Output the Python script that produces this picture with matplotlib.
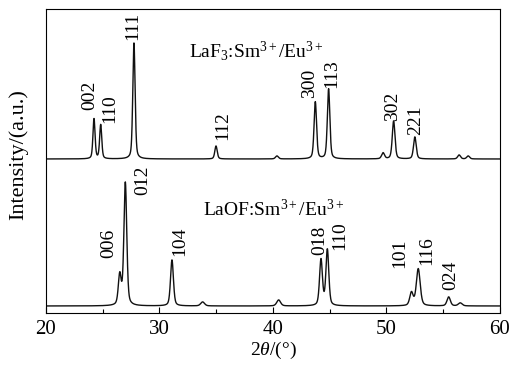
import numpy as np
import matplotlib
matplotlib.use("Agg")
import matplotlib.pyplot as plt

# Peak positions (2theta), heights (a.u.) and widths (FWHM, deg)
laf3_pos = [24.23, 24.82, 27.75, 34.98, 40.35, 43.73, 44.90, 49.70, 50.63, 52.50, 56.40, 57.20]
laf3_height = [40, 34, 116, 13, 3, 57, 70, 6, 38, 22, 4, 3]
laf3_fwhm = [0.22, 0.22, 0.24, 0.25, 0.3, 0.26, 0.26, 0.3, 0.28, 0.28, 0.3, 0.3]
laf3_hkl = ["002", "110", "111", "112", "300", "113", "302", "221"]
laf3_hkl_x = [23.88, 25.64, 27.67, 35.60, 43.26, 45.20, 50.57, 52.60]

laof_pos = [26.50, 26.99, 31.10, 33.80, 40.50, 44.23, 44.79, 52.20, 52.80, 55.48, 56.50]
laof_height = [30, 123, 46, 4, 6, 46, 56, 13, 37, 9, 3]
laof_fwhm = [0.3, 0.3, 0.3, 0.4, 0.4, 0.3, 0.3, 0.35, 0.4, 0.35, 0.4]
laof_hkl = ["006", "012", "104", "018", "110", "101", "116", "024"]
laof_hkl_x = [25.55, 28.55, 31.80, 44.14, 45.90, 51.19, 53.57, 55.68]

plt.rcParams["font.family"] = ["Liberation Serif", "DejaVu Serif"]
plt.rcParams["mathtext.fontset"] = "custom"
plt.rcParams["mathtext.rm"] = "Liberation Serif"
plt.rcParams["mathtext.it"] = "Liberation Serif:italic"


def pattern(x, pos, height, fwhm):
    y = np.zeros_like(x)
    for p, h, w in zip(pos, height, fwhm):
        g = np.exp(-4 * np.log(2) * ((x - p) / w) ** 2)
        lo = 1 / (1 + 4 * ((x - p) / w) ** 2)
        y += h * (0.6 * g + 0.4 * lo)
    return y


x = np.arange(20, 60.001, 0.01)
top = pattern(x, laf3_pos, laf3_height, laf3_fwhm) + 154
bottom = pattern(x, laof_pos, laof_height, laof_fwhm) + 7

fig = plt.figure(figsize=(5.18, 3.65), dpi=100)
ax = fig.add_axes([0.0888, 0.1425, 0.8764, 0.8329])
ax.plot(x, top, color="#111111", lw=1.0)
ax.plot(x, bottom, color="#111111", lw=1.0)

ax.set_xlim(20, 60)
ax.set_ylim(0, 304)
ax.set_xticks([20, 30, 40, 50, 60])
ax.set_xticks([25, 35, 45, 55], minor=True)
ax.set_yticks([])
ax.tick_params(axis="x", direction="in", length=4, width=0.8, labelsize=15, pad=5)
ax.tick_params(axis="x", which="minor", direction="in", length=3, width=0.8)
for s in ax.spines.values():
    s.set_linewidth(0.8)

ax.set_xlabel(r"2$\theta$/(°)", fontsize=14, labelpad=1)
ax.set_ylabel("Intensity/(a.u.)", fontsize=16)
ax.yaxis.set_label_coords(-0.04, 0.52)

# Miller index labels (bottom of text in axis units)
top_label_y = [203, 190, 273, 173, 215, 225, 192, 178]
bot_label_y = [55, 118, 57, 58, 63, 45, 48, 23]
for t, xx, yy in zip(laf3_hkl, laf3_hkl_x, top_label_y):
    ax.text(xx, yy, t, rotation=90, ha="center", va="bottom", fontsize=14)
for t, xx, yy in zip(laof_hkl, laof_hkl_x, bot_label_y):
    ax.text(xx, yy, t, rotation=90, ha="center", va="bottom", fontsize=14)

ax.text(32.6, 262, r"LaF$_3$:Sm$^{3+}$/Eu$^{3+}$", fontsize=14, va="center")
ax.text(33.8, 103, r"LaOF:Sm$^{3+}$/Eu$^{3+}$", fontsize=14, va="center")

fig.savefig("out.png", dpi=100)
